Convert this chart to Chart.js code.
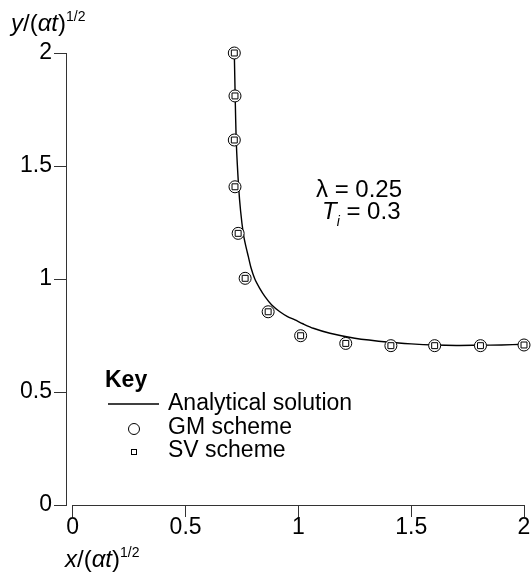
<!DOCTYPE html>
<html>
<head>
<meta charset="utf-8">
<script src="https://cdn.jsdelivr.net/npm/chart.js@4.4.1/dist/chart.umd.min.js"></script>
<style>
  html, body { margin: 0; padding: 0; background: #fff; }
</style>
</head>
<body>
<canvas id="chart" width="531" height="578"></canvas>
<script>
// analytical solution
const analyticX = [0.716, 0.72, 0.725, 0.735, 0.744, 0.756, 0.766, 0.778, 0.79, 0.807, 0.828, 0.852, 0.882, 0.918, 0.95, 0.985, 1.02, 1.066, 1.14, 1.25, 1.405, 1.5, 1.604, 1.7, 1.80, 1.9, 2.0];
const analyticY = [2.0, 1.8, 1.6, 1.41, 1.3, 1.2, 1.15, 1.10, 1.05, 1.0, 0.96, 0.922, 0.885, 0.855, 0.835, 0.819, 0.802, 0.782, 0.76, 0.738, 0.72, 0.713, 0.708, 0.706, 0.707, 0.708, 0.711];

// GM scheme
const gmX = [0.716, 0.719, 0.716, 0.719, 0.733, 0.764, 0.866, 1.01, 1.21, 1.41, 1.604, 1.807, 2.0];
const gmY = [2.0, 1.81, 1.615, 1.408, 1.202, 1.003, 0.855, 0.749, 0.715, 0.705, 0.705, 0.705, 0.708];

// SV scheme
const svX = [0.716, 0.719, 0.716, 0.719, 0.733, 0.764, 0.866, 1.01, 1.21, 1.41, 1.604, 1.807, 2.0];
const svY = [2.0, 1.81, 1.615, 1.408, 1.202, 1.003, 0.855, 0.749, 0.715, 0.705, 0.705, 0.705, 0.708];

const xTicks = [0, 0.5, 1, 1.5, 2];
const yTicks = [0, 0.5, 1, 1.5, 2];
const xTickLabels = ['0', '0.5', '1', '1.5', '2'];
const yTickLabels = ['0', '0.5', '1', '1.5', '2'];

const FONT = '"Liberation Sans", Arial, Helvetica, sans-serif';
const AXIS_COLOR = '#333';

function toPoints(xs, ys) {
  return xs.map((x, i) => ({ x: x, y: ys[i] }));
}

// draws text made of runs (italic / superscript / subscript)
function drawRuns(ctx, runs, x, y, size) {
  let cx = x;
  runs.forEach(r => {
    let fs = (r.sup || r.sub) ? Math.round(size * 0.58) : size;
    ctx.font = (r.it ? 'italic ' : '') + (r.b ? 'bold ' : '') + fs + 'px ' + FONT;
    let dy = r.sup ? -size * 0.42 : (r.sub ? size * 0.28 : 0);
    ctx.fillText(r.t, cx, y + dy);
    cx += ctx.measureText(r.t).width;
  });
}

const decorPlugin = {
  id: 'decor',
  afterDraw(chart) {
    const ctx = chart.ctx;
    const xs = chart.scales.x;
    const area = chart.chartArea;
    ctx.save();

    // x axis line only spans the data range
    ctx.strokeStyle = AXIS_COLOR;
    ctx.lineWidth = 1;
    ctx.beginPath();
    ctx.moveTo(Math.round(xs.getPixelForValue(0)) - 0.5, Math.round(area.bottom) + 0.5);
    ctx.lineTo(Math.round(xs.getPixelForValue(2)) + 0.5, Math.round(area.bottom) + 0.5);
    ctx.stroke();

    ctx.fillStyle = '#000';
    ctx.textBaseline = 'alphabetic';
    ctx.textAlign = 'left';

    // axis titles
    drawRuns(ctx, [{ t: 'y', it: true }, { t: '/(' }, { t: 'α', it: true }, { t: 't', it: true }, { t: ')' }, { t: '1/2', sup: true }], 11, 31, 24);
    drawRuns(ctx, [{ t: 'x', it: true }, { t: '/(' }, { t: 'α', it: true }, { t: 't', it: true }, { t: ')' }, { t: '1/2', sup: true }], 65, 567, 24);

    // parameters
    drawRuns(ctx, [{ t: 'λ = 0.25' }], 316, 197, 24);
    drawRuns(ctx, [{ t: 'T', it: true }, { t: 'i', it: true, sub: true }, { t: ' = 0.3' }], 322, 219, 24);

    // key
    ctx.textBaseline = 'middle';
    drawRuns(ctx, [{ t: 'Key', b: true }], 105, 381, 23);
    drawRuns(ctx, [{ t: 'Analytical solution' }], 168, 404, 23);
    drawRuns(ctx, [{ t: 'GM scheme' }], 168, 428, 23);
    drawRuns(ctx, [{ t: 'SV scheme' }], 168, 451, 23);

    ctx.strokeStyle = '#000';
    ctx.lineWidth = 1.3;
    ctx.beginPath();
    ctx.moveTo(108, 404);
    ctx.lineTo(159, 404);
    ctx.stroke();

    ctx.lineWidth = 1;
    ctx.beginPath();
    ctx.arc(134, 429, 5.5, 0, Math.PI * 2);
    ctx.stroke();
    ctx.strokeRect(131.5, 449.5, 5, 5);

    ctx.restore();
  }
};

new Chart(document.getElementById('chart'), {
  type: 'scatter',
  data: {
    datasets: [
      {
        label: 'Analytical solution',
        data: toPoints(analyticX, analyticY),
        showLine: true,
        borderColor: '#000',
        borderWidth: 1.4,
        pointRadius: 0,
        tension: 0.25,
        clip: false,
        order: 3
      },
      {
        label: 'GM scheme',
        data: toPoints(gmX, gmY),
        pointStyle: 'circle',
        pointRadius: 6,
        borderColor: '#000',
        backgroundColor: '#fff',
        borderWidth: 1,
        clip: false,
        order: 2
      },
      {
        label: 'SV scheme',
        data: toPoints(svX, svY),
        pointStyle: 'rect',
        pointRadius: 4.2,
        borderColor: '#000',
        backgroundColor: '#fff',
        borderWidth: 1,
        clip: false,
        order: 1
      }
    ]
  },
  options: {
    responsive: false,
    devicePixelRatio: 1,
    animation: false,
    layout: { padding: { left: 0, right: 6.7, top: 53, bottom: 0 } },
    plugins: {
      legend: { display: false },
      tooltip: { enabled: false }
    },
    scales: {
      x: {
        type: 'linear',
        min: -0.03,
        max: 2,
        afterBuildTicks: s => { s.ticks = xTicks.map(v => ({ value: v })); },
        afterFit: s => { s.height = 73; },
        border: { display: false },
        grid: { drawOnChartArea: false, drawTicks: true, tickLength: 12, color: AXIS_COLOR, lineWidth: 1 },
        ticks: {
          autoSkip: false,
          maxRotation: 0,
          padding: -3,
          color: '#000',
          font: { family: FONT, size: 23 },
          callback: (v) => xTickLabels[xTicks.indexOf(v)]
        }
      },
      y: {
        type: 'linear',
        min: 0,
        max: 2,
        afterBuildTicks: s => { s.ticks = yTicks.map(v => ({ value: v })); },
        afterFit: s => { s.width = 66; },
        border: { display: true, color: AXIS_COLOR, width: 1 },
        grid: { drawOnChartArea: false, drawTicks: true, tickLength: 12, color: AXIS_COLOR, lineWidth: 1 },
        ticks: {
          padding: 2,
          color: '#000',
          font: { family: FONT, size: 23 },
          callback: (v) => yTickLabels[yTicks.indexOf(v)]
        }
      }
    }
  },
  plugins: [decorPlugin]
});
</script>
</body>
</html>
